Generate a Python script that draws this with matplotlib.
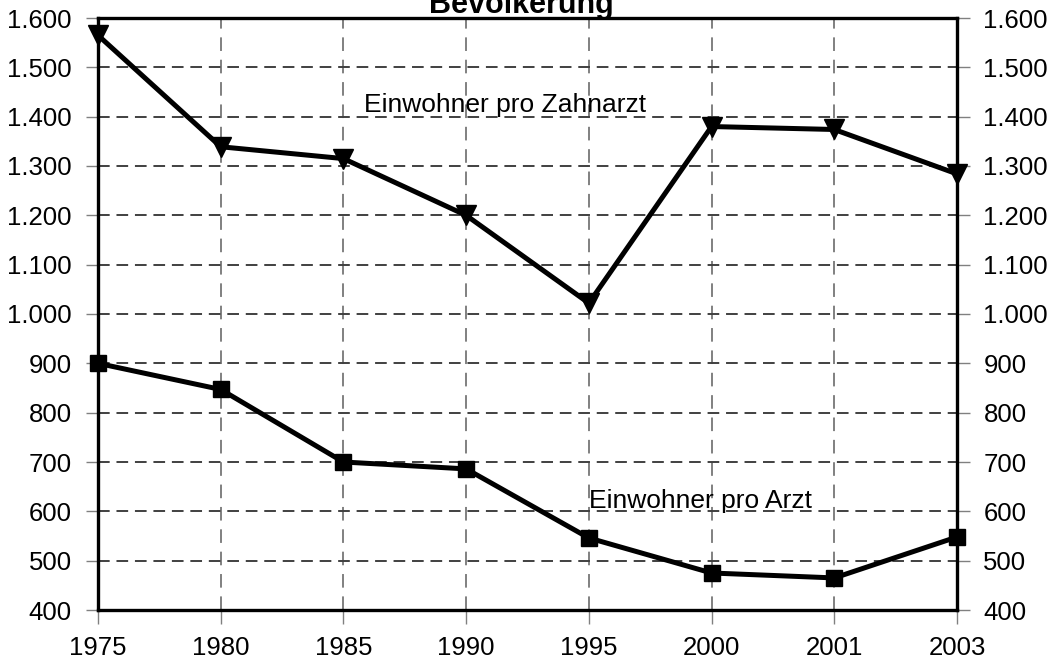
import matplotlib
matplotlib.use("Agg")
import matplotlib.pyplot as plt
from matplotlib.ticker import FuncFormatter, FixedLocator

plt.rcParams['font.family'] = ['Liberation Sans', 'DejaVu Sans']

years = ["1975", "1980", "1985", "1990", "1995", "2000", "2001", "2003"]
zahnarzt = [1565, 1339, 1315, 1200, 1022, 1380, 1374, 1284]
arzt = [900, 847, 700, 686, 546, 475, 465, 548]
title = "Bevölkerung"
label_zahnarzt = "Einwohner pro Zahnarzt"
label_arzt = "Einwohner pro Arzt"

fig = plt.figure(figsize=(10.58, 6.59), dpi=100)
ax = fig.add_axes([98/1058, 1-610/659, (957-98)/1058, (610-18)/659])

x = list(range(len(years)))
ax.plot(x, zahnarzt, color='black', lw=3.6, marker='v', ms=14, zorder=5, clip_on=False)
ax.plot(x, arzt, color='black', lw=3.6, marker='s', ms=11, zorder=5, clip_on=False)

ax.set_xlim(0, len(years) - 1)
ax.set_ylim(400, 1600)
ax.set_xticks(x)
ax.set_xticklabels(years)
yt = list(range(400, 1601, 100))
ax.set_yticks(yt)

def fmt(v, pos):
    return f"{int(v):,}".replace(",", ".")
ax.yaxis.set_major_formatter(FuncFormatter(fmt))

for yv in yt[1:-1]:
    ax.axhline(yv, color='#404040', lw=1.4, ls=(0, (6, 3.5)), zorder=2)
for xv in x[1:-1]:
    ax.axvline(xv, color='#808080', lw=1.4, ls=(0, (7, 4.5)), zorder=1)

for s in ax.spines.values():
    s.set_linewidth(2.4)
    s.set_color('black')
    s.set_zorder(6)

ax.tick_params(axis='x', direction='out', length=10, width=1, color='#808080',
               labelsize=18.5, pad=9)
ax.tick_params(axis='y', direction='out', length=9, width=1, color='#808080',
               labelsize=18.5, pad=10, right=True, labelright=True)

ax.text(364/1058, 1-112/659, label_zahnarzt, transform=fig.transFigure,
        fontsize=19, ha='left', va='baseline')
ax.text(589/1058, 1-508/659, label_arzt, transform=fig.transFigure,
        fontsize=19, ha='left', va='baseline')
fig.text(521/1058, 1-13/659, title, fontsize=22, fontweight='bold',
         ha='center', va='baseline')

fig.savefig("out.png", dpi=100)
